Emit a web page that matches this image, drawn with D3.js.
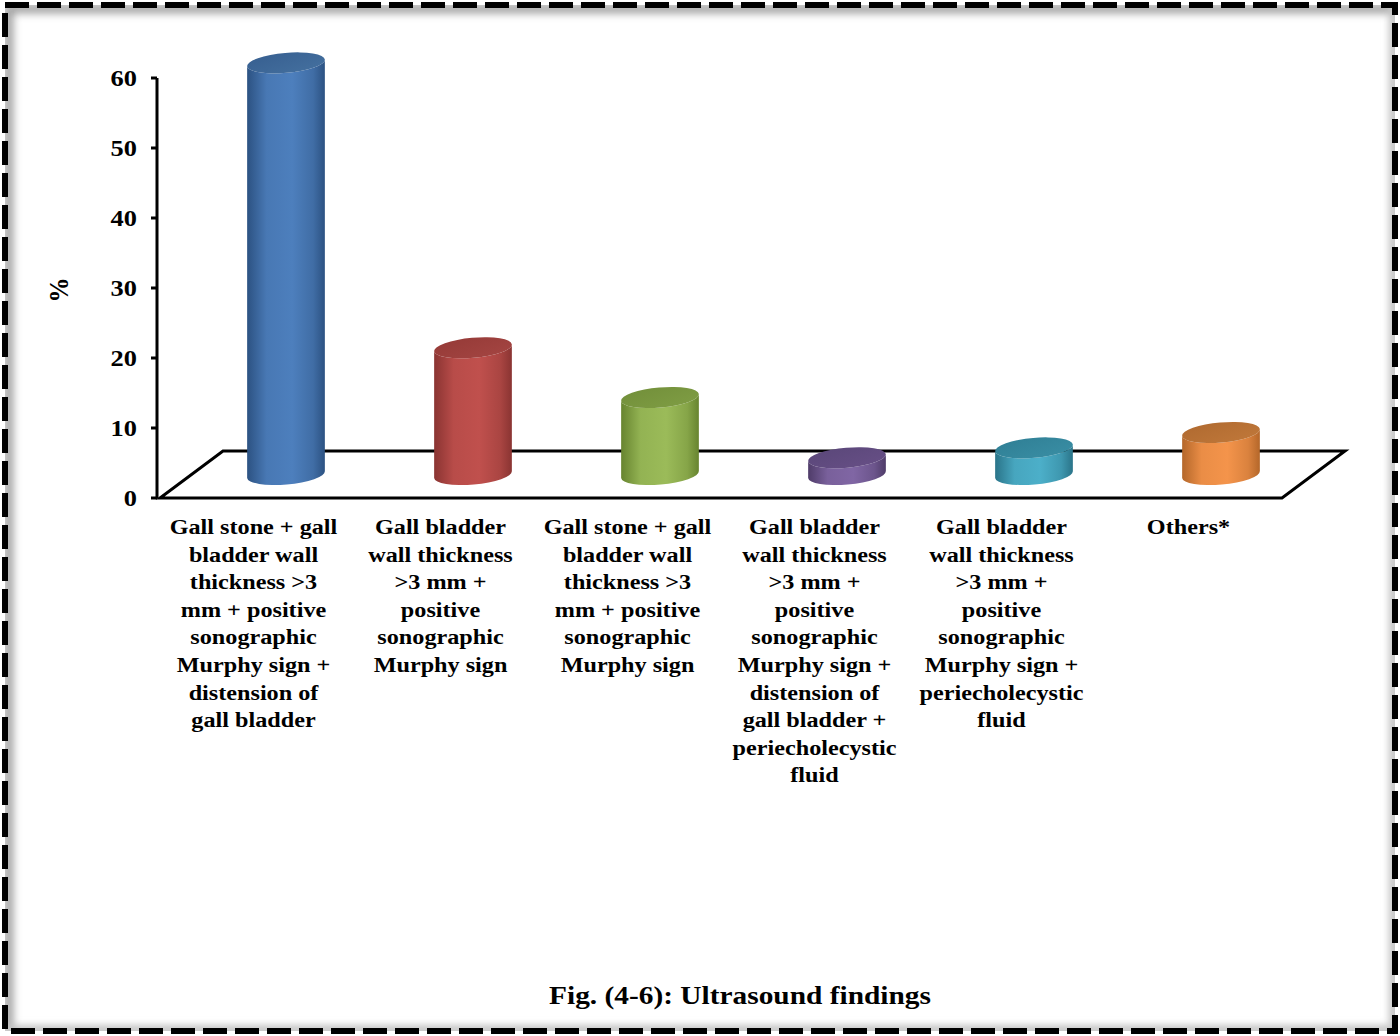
<!DOCTYPE html>
<html>
<head>
<meta charset="utf-8">
<script src="https://cdn.jsdelivr.net/npm/d3@7"></script>
<style>
  html, body { margin: 0; padding: 0; background: #ffffff; }
  svg { display: block; }
  text { font-family: "Liberation Serif", "Times New Roman", serif; font-weight: bold; fill: #000; }
</style>
</head>
<body>
<svg id="chart" width="1400" height="1036"></svg>
<script>
// ---- data ----
const categories = [
  ["Gall stone + gall","bladder wall","thickness >3","mm + positive","sonographic","Murphy sign +","distension of","gall bladder"],
  ["Gall bladder","wall thickness",">3 mm +","positive","sonographic","Murphy sign"],
  ["Gall stone + gall","bladder wall","thickness >3","mm + positive","sonographic","Murphy sign"],
  ["Gall bladder","wall thickness",">3 mm +","positive","sonographic","Murphy sign +","distension of","gall bladder +","periecholecystic","fluid"],
  ["Gall bladder","wall thickness",">3 mm +","positive","sonographic","Murphy sign +","periecholecystic","fluid"],
  ["Others*"]
];
const values = [58.8, 18.1, 11.0, 2.4, 3.8, 6.0];
const yTicks = [0, 10, 20, 30, 40, 50, 60];
const yTitle = "%";
const caption = "Fig. (4-6): Ultrasound findings";
const palette = [
  { edge: "#2c5282", mid: "#4d7fbd", top: "#375f90", topLight: "#44709f" },
  { edge: "#8a3432", mid: "#c0504d", top: "#953a37", topLight: "#a44542" },
  { edge: "#67842f", mid: "#9bbb59", top: "#728f3a", topLight: "#7f9d44" },
  { edge: "#4f3c69", mid: "#8066a4", top: "#5a4779", topLight: "#674f86" },
  { edge: "#2a7489", mid: "#4cafc9", top: "#2f7f95", topLight: "#3a8ea4" },
  { edge: "#b4672a", mid: "#f4944b", top: "#b06a30", topLight: "#c0783a" }
];

// ---- layout ----
const svg = d3.select("#chart");
const floorFront = { x0: 160, x1: 1282, y: 498 };
const depth = { dx: 63, dy: -47 };

const x = d3.scaleBand().domain(d3.range(categories.length)).range([floorFront.x0, floorFront.x1]).padding(0);
const y = d3.scaleLinear().domain([0, 60]).range([498, 78]);

const defs = svg.append("defs");

const f = defs.append("filter").attr("id", "inshadow").attr("x", "-5%").attr("y", "-5%").attr("width", "110%").attr("height", "110%");
f.append("feGaussianBlur").attr("stdDeviation", 4);

const clip = defs.append("clipPath").attr("id", "innerclip");
clip.append("rect").attr("x", 5).attr("y", 5).attr("width", 1390).attr("height", 1026);
svg.append("g").attr("clip-path", "url(#innerclip)")
  .append("rect")
  .attr("x", 8).attr("y", 8).attr("width", 1390).attr("height", 1026)
  .attr("fill", "none").attr("stroke", "#9a9a9a").attr("stroke-width", 10)
  .attr("filter", "url(#inshadow)");
svg.append("g").attr("clip-path", "url(#innerclip)")
  .append("rect")
  .attr("x", 0).attr("y", 0).attr("width", 1395).attr("height", 1031)
  .attr("fill", "none").attr("stroke", "#cfcfcf").attr("stroke-width", 10)
  .attr("filter", "url(#inshadow)");

svg.append("rect")
  .attr("x", 5).attr("y", 5).attr("width", 1390).attr("height", 1026)
  .attr("fill", "none").attr("stroke", "#000").attr("stroke-width", 6)
  .attr("stroke-dasharray", "24 8");

// floor
const floorPts = [
  [floorFront.x0, floorFront.y],
  [floorFront.x1, floorFront.y],
  [floorFront.x1 + depth.dx, floorFront.y + depth.dy],
  [floorFront.x0 + depth.dx, floorFront.y + depth.dy]
];
svg.append("path")
  .attr("d", "M" + floorPts.map(p => p.join(",")).join("L") + "Z")
  .attr("fill", "none").attr("stroke", "#000").attr("stroke-width", 3).attr("stroke-linejoin", "miter");

palette.forEach((c, i) => {
  const g = defs.append("linearGradient").attr("id", "body" + i).attr("x1", 0).attr("x2", 1).attr("y1", 0).attr("y2", 0);
  g.append("stop").attr("offset", "0%").attr("stop-color", c.edge);
  g.append("stop").attr("offset", "25%").attr("stop-color", d3.interpolateRgb(c.edge, c.mid)(0.85));
  g.append("stop").attr("offset", "58%").attr("stop-color", c.mid);
  g.append("stop").attr("offset", "85%").attr("stop-color", d3.interpolateRgb(c.edge, c.mid)(0.6));
  g.append("stop").attr("offset", "100%").attr("stop-color", c.edge);
  const t = defs.append("linearGradient").attr("id", "top" + i).attr("x1", 0).attr("x2", 1).attr("y1", 0).attr("y2", 1);
  t.append("stop").attr("offset", "0%").attr("stop-color", c.top);
  t.append("stop").attr("offset", "100%").attr("stop-color", c.topLight);
});

// cylinders
const rx = 39, ry = 10, theta = -5;
const a = rx * Math.cos(theta * Math.PI / 180);
const b = rx * Math.sin(theta * Math.PI / 180);
const baseOffsetX = depth.dx / 2, baseOffsetY = depth.dy / 2;

const bars = svg.append("g").selectAll("g").data(values).join("g");
bars.each(function (v, i) {
  const g = d3.select(this);
  const cx = x(i) + x.bandwidth() / 2 + baseOffsetX + 1;
  const by = y(0) + baseOffsetY;
  const ty = y(v) + baseOffsetY;
  const d = `M${cx - a},${ty - b} L${cx - a},${by - b} A${rx},${ry} ${theta} 0 0 ${cx + a},${by + b} L${cx + a},${ty + b} A${rx},${ry} ${theta} 0 1 ${cx - a},${ty - b} Z`;
  g.append("path").attr("d", d).attr("fill", `url(#body${i})`);
  g.append("ellipse")
    .attr("cx", cx).attr("cy", ty).attr("rx", rx).attr("ry", ry)
    .attr("transform", `rotate(${theta},${cx},${ty})`)
    .attr("fill", `url(#top${i})`);
});

// y axis
const axisX = 157;
svg.append("line").attr("x1", axisX).attr("x2", axisX).attr("y1", y(60)).attr("y2", y(0))
  .attr("stroke", "#000").attr("stroke-width", 3);
const tg = svg.append("g").selectAll("g").data(yTicks).join("g");
tg.append("line").attr("x1", axisX - 6).attr("x2", axisX).attr("y1", d => y(d)).attr("y2", d => y(d))
  .attr("stroke", "#000").attr("stroke-width", 3);
tg.append("text")
  .attr("transform", d => `translate(137,${y(d)}) scale(1.1,1)`)
  .attr("dy", "0.35em")
  .attr("text-anchor", "end").attr("font-size", 24).text(d => d);

svg.append("text").attr("transform", "translate(68,290) rotate(-90) scale(1,1.12)")
  .attr("text-anchor", "middle").attr("font-size", 25).text(yTitle);

// category labels
const lh = 27.6;
const lbl = svg.append("g").selectAll("text").data(categories).join("text")
  .attr("text-anchor", "middle").attr("font-size", 22)
  .attr("transform", (d, i) => `translate(${x(i) + x.bandwidth() / 2},534) scale(1.1,1)`);
lbl.each(function (lines) {
  const t = d3.select(this);
  lines.forEach((ln, k) => {
    t.append("tspan").attr("x", 0).attr("y", k * lh).text(ln);
  });
});

// caption
svg.append("text").attr("transform", "translate(740,1004) scale(1.13,1)").attr("text-anchor", "middle")
  .attr("font-size", 26).text(caption);
</script>
</body>
</html>
